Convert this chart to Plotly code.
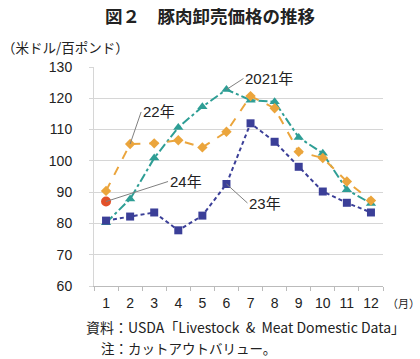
import plotly.graph_objects as go

months = list(range(1, 13))
month_labels = [str(m) for m in months]
y2021 = [80.2, 87.8, 100.9, 110.7, 117.3, 122.8, 119.4, 118.9, 107.5, 102.4, 90.8, 86.4]
y2022 = [90.4, 105.4, 105.6, 106.6, 104.3, 109.3, 120.7, 116.8, 102.9, 100.9, 93.4, 87.3]
y2023 = [80.9, 82.2, 83.5, 77.8, 82.5, 92.6, 112.0, 106.1, 98.1, 90.2, 86.6, 83.5]
y2024 = [87.0]

FONT = "Liberation Sans, Noto Sans CJK JP"
JP = "Noto Sans CJK JP"
TXT = "#222222"

W, H = 420, 359
pl, pr, pt, pb = 94, 37, 67, 73
pw, ph = W - pl - pr, H - pt - pb


def px(x):
    return (x - pl) / pw


def py(y):
    return (H - pb - y) / ph


fig = go.Figure()
fig.add_trace(go.Scatter(x=months, y=y2021, mode="lines+markers",
                         line=dict(color="#2E9E95", width=2, dash="dashdot"),
                         marker=dict(symbol="triangle-up", size=9, color="#2E9E95")))
fig.add_trace(go.Scatter(x=months, y=y2022, mode="lines+markers",
                         line=dict(color="#EBA53C", width=2, dash="dash"),
                         marker=dict(symbol="diamond", size=8, color="#EBA53C")))
fig.add_trace(go.Scatter(x=months, y=y2023, mode="lines+markers",
                         line=dict(color="#3B3F98", width=2, dash="4px,3px"),
                         marker=dict(symbol="square", size=8, color="#3B3F98")))
fig.add_trace(go.Scatter(x=months[:1], y=y2024, mode="markers",
                         marker=dict(symbol="circle", size=10, color="#E2512A")))


def label(text, xv, yv, ax, ay):
    fig.add_annotation(x=xv, y=yv, ax=ax, ay=ay, axref="pixel", ayref="pixel",
                       text=text, showarrow=True, arrowhead=0, arrowwidth=1,
                       arrowcolor="#808080", xanchor="left", yanchor="middle",
                       font=dict(family=FONT, size=15, color=TXT))


label("2021年", 6, y2021[5], 17, -11)
label("22年", 2, y2022[1], 11, -32)
label("24年", 1, y2024[0], 62, -20)
label("23年", 6, y2023[5], 21, 19)


def text(t, x, y, size, anchor="left", family=JP):
    fig.add_annotation(x=px(x), y=py(y), xref="paper", yref="paper",
                       xanchor=anchor, yanchor="middle", text=t, showarrow=False,
                       font=dict(family=family, size=size, color=TXT))


text("<b>図２　豚肉卸売価格の推移</b>", 210, 15, 17.5, anchor="center")
text("（米ドル/百ポンド）", 0, 47, 13.5)
text("（月）", 385, 303, 11)
text("資料：USDA「Livestock&nbsp;&nbsp;&amp;&nbsp;&nbsp;Meat Domestic Data」", 84, 327, 14)
text("注：カットアウトバリュー。", 99, 348, 13.5)

fig.update_layout(
    width=W, height=H,
    margin=dict(l=pl, r=pr, t=pt, b=pb),
    paper_bgcolor="white", plot_bgcolor="white",
    showlegend=False,
    font=dict(family=FONT, size=14, color=TXT),
    xaxis=dict(range=[0.5, 12.5], tickvals=months, ticktext=month_labels,
               showgrid=False, zeroline=False, showline=True, linecolor="#BBBBBB",
               ticks="", tickfont=dict(size=14), ticklabelstandoff=4,
               minor=dict(tick0=0.5, dtick=1, ticks="outside", ticklen=4,
                          tickcolor="#BBBBBB")),
    yaxis=dict(range=[60, 130], dtick=10, showgrid=True, gridcolor="#D6D6D6",
               zeroline=False, showline=True, linecolor="#D6D6D6",
               ticks="outside", ticklen=4, tickcolor="#D6D6D6",
               ticklabelstandoff=14, tickfont=dict(size=14)),
)

fig.write_html("out.html", config={"displayModeBar": False},
               post_script="document.body.style.margin='0';")
